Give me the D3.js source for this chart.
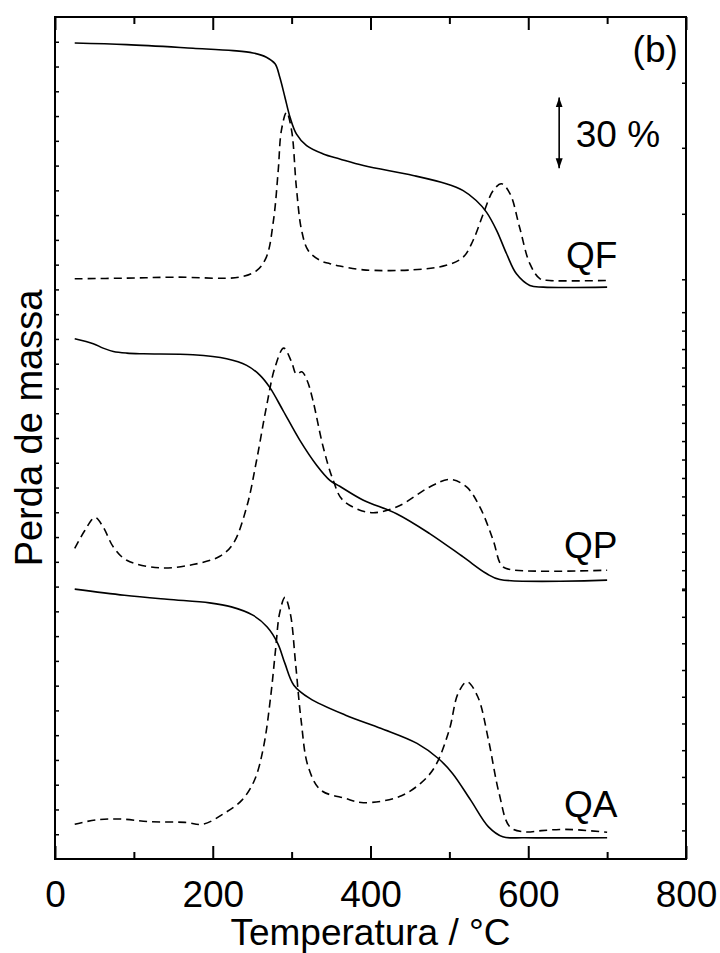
<!DOCTYPE html>
<html>
<head>
<meta charset="utf-8">
<script src="https://cdn.jsdelivr.net/npm/d3@7"></script>
<style>
  body { margin: 0; background: #fff; }
  text { font-family: "Liberation Sans", Arial, sans-serif; fill: #000; }
</style>
</head>
<body>
<svg id="chart" width="720" height="953"></svg>
<script>

// ================= data (temperature in °C, stacked mass-loss units, 30 units = 30 %)
var xTickLabels = [0, 200, 400, 600, 800];
var xMinorTicks = [100, 300, 500, 700];

var qfTG = [[25,345.0],[91,344.3],[175,342.8],[226,341.8],[251,340.8],[268,339.0],[279,336.2],[285,330.5],
  [291.5,322.1],[298,313.6],[306,306.6],[319,301.6],[340,298.1],[361,296.0],[391,293.2],[454,289.0],
  [496,285.5],[517.5,282.6],[534,278.4],[547,273.5],[560,265.7],[572.5,255.9],[585,247.4],[602,242.5],
  [619,241.8],[700,241.8]];

var qfDTG = [[25,245.3],[91,245.6],[154,246.0],[234,246.0],[255.6,248.8],[268,254.5],[277,270.0],[283,291.1],
  [287,308.0],[293.6,315.7],[300,308.0],[306,284.0],[312.7,265.7],[321,257.3],[336,253.1],[348.5,251.7],
  [361,250.7],[391,249.1],[454,249.1],[496,251.0],[517.5,254.5],[530,261.5],[543,272.8],[555.5,282.6],
  [566,285.5],[577,281.2],[589,267.1],[602,251.7],[615,245.3],[627,244.6],[700,244.6]];

var qpTG = [[25,220.0],[48.5,217.9],[61,216.0],[74,214.6],[91,213.9],[112,213.6],[175,213.2],[217.6,211.5],
  [243,208.7],[260,204.5],[272.5,199.3],[289,189.7],[310.5,177.0],[331.7,166.5],[348.5,160.1],[361,157.6],
  [391,151.7],[433,146.0],[475,137.6],[517.5,127.7],[547,120.7],[564,118.2],[700,117.9]];

var qpDTG = [[25,131.3],[38,139.0],[50.7,144.4],[61,140.4],[74,131.9],[91,126.3],[133,123.1],[175,124.5],
  [209,128.0],[226,133.4],[243,148.8],[255.6,168.6],[268,191.1],[279,208.0],[290,216.0],[300,210.1],
  [306,205.0],[313,206.0],[320,202.0],[327,193.9],[340,174.2],[352.7,160.1],[365,151.7],[399,146.5],
  [433,148.8],[475,157.3],[500.6,160.5],[521.8,157.3],[538.7,148.8],[555.5,134.8],[566,124.2],[577,122.4],
  [700,122.1]];

var qaTG = [[25,114.1],[88,111.5],[142,109.8],[196,108.3],[223.6,106.6],[250.8,103.1],[269,98.1],[282.5,91.1],
  [291.5,82.7],[302.8,73.5],[323,67.9],[368.4,60.8],[413.7,55.2],[459,48.9],[486,42.5],[504,36.2],
  [527,24.9],[549.6,13.6],[567.7,9.4],[594.8,9.0],[700,9.0]];

var qaDTG = [[25,14.7],[51.6,16.5],[83,16.9],[119.5,15.8],[164.8,15.5],[187.5,14.7],[214.6,19.3],[237,24.9],
  [253,33.4],[264.4,47.4],[273.4,68.6],[280,89.7],[284.7,103.8],[291.5,110.6],[298.3,103.8],[305,82.7],
  [312,58.7],[321,39.0],[336.8,29.2],[368.4,25.6],[391,23.8],[436,26.3],[463.5,32.0],[481.6,39.0],
  [499.8,54.5],[511,70.0],[522.3,74.9],[536,68.6],[549.6,50.3],[563,27.8],[576.7,13.6],[594.8,11.5],
  [617,12.0],[640,12.5],[663.6,12.3],[700,11.3]];

// sample names and where they sit
var sampleNames = ["QF", "QP", "QA"];
var sampleLabelY = [249.9, 127.1, 17.6];

// right-hand ticks of the three stacked panels
var rightTicksTop = [328.2, 300.7, 272.8, 245.1];
var rightTicksMid = [231.2, 223.4, 215.6, 207.8, 200.0, 192.2, 184.4, 176.7, 168.9, 161.1, 153.3, 145.5, 137.7, 129.9, 122.1, 114.3];
var rightTicksBot = [113.7, 102.4, 91.2, 79.9, 68.6, 57.3, 46.0, 34.7, 23.5, 12.1];

var scaleBar = [292, 322];   // 30 % arrow
var yMax = 356;

// ================= layout
var margin = {top: 17, right: 34, bottom: 94, left: 55},
    width = 720 - margin.left - margin.right,
    height = 953 - margin.top - margin.bottom;

var svg = d3.select("#chart");
var g = svg.append("g").attr("transform", "translate(" + margin.left + "," + margin.top + ")");

var x = d3.scaleLinear().domain([0, 800]).range([0, width]);
var y = d3.scaleLinear().domain([0, yMax]).range([height, 0]);

// ================= axes (ticks inside)
var majorLen = 13, minorLen = 7, sideLen = 4;

g.append("g").attr("transform", "translate(0," + height + ")")
  .call(d3.axisBottom(x).tickValues(xTickLabels).tickSizeInner(-majorLen).tickSizeOuter(0).tickPadding(majorLen + 9).tickFormat(d3.format("d")))
  .call(function(a) { a.select(".domain").remove(); a.selectAll("line").attr("stroke-width", 2); a.selectAll("text").style("font-size", "37px").attr("font-family", null); });

g.append("g").attr("transform", "translate(0," + height + ")")
  .call(d3.axisBottom(x).tickValues(xMinorTicks).tickSizeInner(-minorLen).tickSizeOuter(0).tickFormat(""))
  .call(function(a) { a.select(".domain").remove(); a.selectAll("line").attr("stroke-width", 2); });

g.append("g")
  .call(d3.axisTop(x).tickValues(xTickLabels).tickSizeInner(-majorLen).tickSizeOuter(0).tickFormat(""))
  .call(function(a) { a.select(".domain").remove(); a.selectAll("line").attr("stroke-width", 2); });

g.append("g")
  .call(d3.axisTop(x).tickValues(xMinorTicks).tickSizeInner(-minorLen).tickSizeOuter(0).tickFormat(""))
  .call(function(a) { a.select(".domain").remove(); a.selectAll("line").attr("stroke-width", 2); });

g.append("g")
  .call(d3.axisLeft(y).tickValues(d3.range(1, 34).map(function(i) { return i * yMax / 34; })).tickSizeInner(-sideLen).tickSizeOuter(0).tickFormat(""))
  .call(function(a) { a.select(".domain").remove(); a.selectAll("line").attr("stroke-width", 1.5); });

g.append("g").attr("transform", "translate(" + width + ",0)")
  .call(d3.axisRight(y).tickValues(rightTicksTop.concat(rightTicksMid, rightTicksBot)).tickSizeInner(-sideLen).tickSizeOuter(0).tickFormat(""))
  .call(function(a) { a.select(".domain").remove(); a.selectAll("line").attr("stroke-width", 1.5); });

// frame
g.append("rect")
  .attr("x", 0).attr("y", 0)
  .attr("width", width).attr("height", height)
  .attr("fill", "none").attr("stroke", "#000").attr("stroke-width", 2);

// ================= curves
var line = d3.line()
  .x(function(d) { return x(d[0]); })
  .y(function(d) { return y(d[1]); })
  .curve(d3.curveCatmullRom.alpha(0.5));

[qfTG, qpTG, qaTG].forEach(function(s) {
  g.append("path").attr("d", line(s))
    .attr("fill", "none").attr("stroke", "#000").attr("stroke-width", 1.6);
});

[qfDTG, qpDTG, qaDTG].forEach(function(s) {
  g.append("path").attr("d", line(s))
    .attr("fill", "none").attr("stroke", "#000").attr("stroke-width", 1.6)
    .attr("stroke-dasharray", "8,5");
});

// ================= labels
g.selectAll(".sample")
  .data(sampleNames)
  .enter()
  .append("text")
    .attr("class", "sample")
    .attr("x", x(713))
    .attr("y", function(d, i) { return y(sampleLabelY[i]); })
    .attr("text-anchor", "end")
    .style("font-size", "37px")
    .text(function(d) { return d; });

g.append("text")
  .attr("x", x(789.6)).attr("y", y(337))
  .attr("text-anchor", "end")
  .style("font-size", "37px")
  .text("(b)");

// 30 % scale arrow
svg.append("defs").append("marker")
  .attr("id", "head")
  .attr("viewBox", "0 0 10 10")
  .attr("refX", 10).attr("refY", 5)
  .attr("markerWidth", 10).attr("markerHeight", 10)
  .attr("markerUnits", "userSpaceOnUse")
  .attr("orient", "auto-start-reverse")
  .append("path").attr("d", "M0,1.5L10,5L0,8.5Z").attr("fill", "#000");

g.append("line")
  .attr("x1", x(639.2)).attr("x2", x(639.2))
  .attr("y1", y(scaleBar[0])).attr("y2", y(scaleBar[1]))
  .attr("stroke", "#000").attr("stroke-width", 1.6)
  .attr("marker-start", "url(#head)").attr("marker-end", "url(#head)");

g.append("text")
  .attr("x", x(660.3)).attr("y", y(301.2))
  .style("font-size", "37px")
  .text("30 %");

// axis titles
svg.append("text")
  .attr("x", margin.left + x(400)).attr("y", 945)
  .attr("text-anchor", "middle")
  .style("font-size", "37px")
  .text("Temperatura / °C");

svg.append("text")
  .attr("transform", "translate(42,428) rotate(-90)")
  .attr("text-anchor", "middle")
  .style("font-size", "38px")
  .text("Perda de massa");

</script>
</body>
</html>
